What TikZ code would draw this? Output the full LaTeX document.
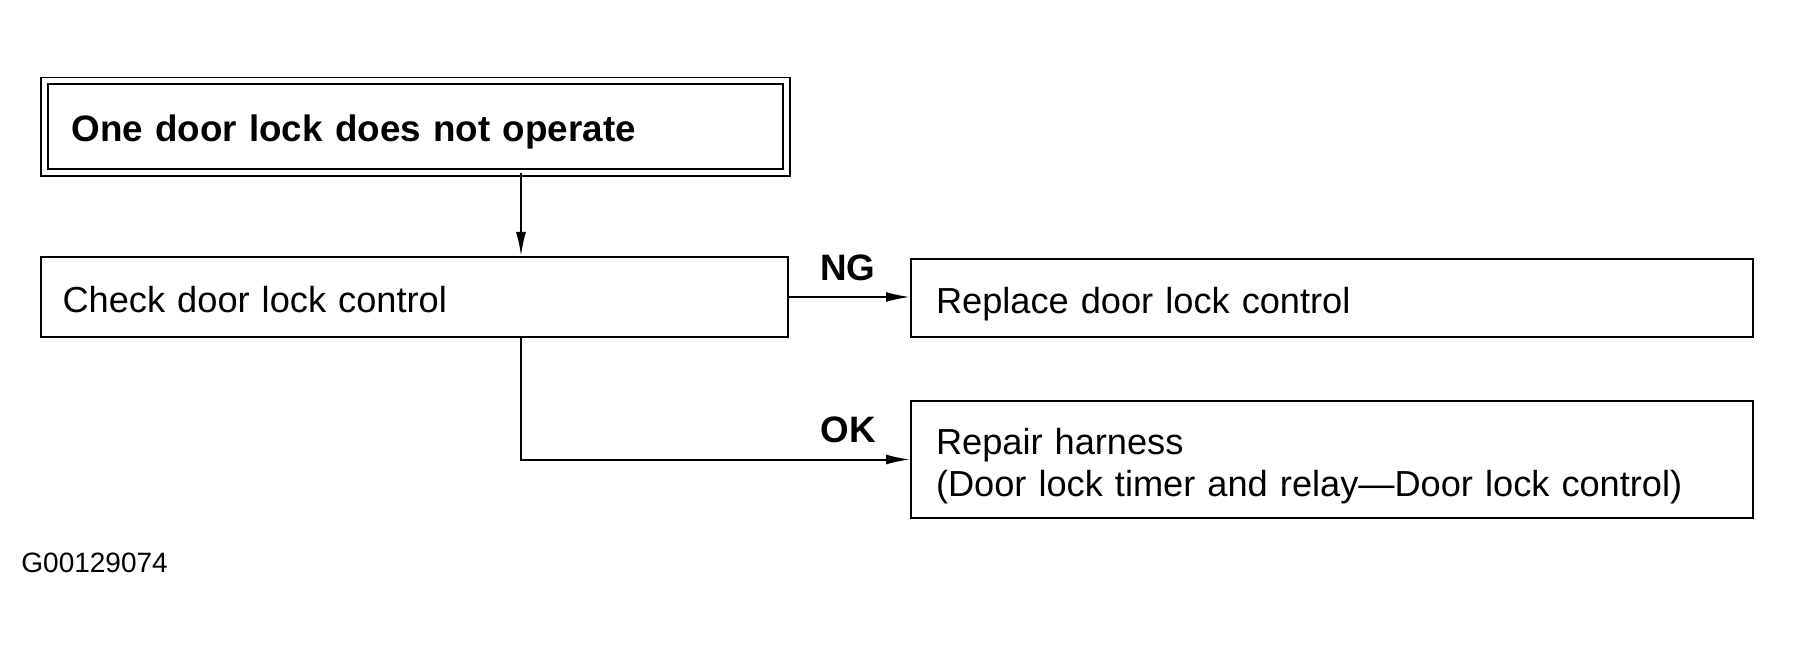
\documentclass[tikz,border=0pt]{standalone}
\usepackage{fontspec}
\setmainfont{Liberation Sans}
\usetikzlibrary{arrows.meta}

\begin{document}
\begin{tikzpicture}[x=0.5pt,y=0.5pt,yscale=-1,xscale=1,
  box/.style={draw, line width=1pt, rectangle, anchor=north west, inner xsep=12.5pt, align=left, font=\fontsize{18.1}{21}\selectfont},
  arr/.style={line width=1pt, -{Latex[length=12pt,width=5pt]}},
  lbl/.style={inner sep=0pt, font=\fontsize{18.4}{20}\selectfont\bfseries}]
\useasboundingbox (0,0) rectangle (1793,646);

%Shape: Double Rectangle
\node[box, double, line width=0.9pt, double distance=2.5pt, inner xsep=13.5pt, text width=344pt, text height=15pt, text depth=0pt, minimum height=45.75pt, font=\fontsize{18.4}{20}\selectfont\bfseries] (trouble) at (43.5,80) {One door lock does not operate};
%Shape: Rectangle
\node[box, inner xsep=10.8pt, text width=351.9pt, text height=16pt, text depth=0pt, minimum height=40pt] (check) at (40,256) {Check door lock control};
%Shape: Rectangle
\node[box, text width=396pt, text height=16pt, text depth=0pt, minimum height=39pt] (replace) at (910,258) {Replace door lock control};
%Shape: Rectangle
\node[box, text width=396pt, text height=20pt, minimum height=58.5pt] (repair) at (910,400) {Repair harness\\(Door lock timer and relay—Door lock control)};

%Straight Lines
\coordinate (split) at (521,0);
\draw[arr] (trouble.south -| split) -- (check.north -| split);
\draw[arr] (check.east) -- (check.east -| replace.west);
\draw[arr] (check.south -| split) |- (repair.west);

% Text Node
\node[lbl] (ng) at (848,268) {NG};
% Text Node
\node[lbl] (ok) at (848,430) {OK};
% Text Node
\node[anchor=west, inner sep=0pt, font=\fontsize{14}{16}\selectfont] (figid) at (21,563) {G00129074};

\end{tikzpicture}
\end{document}
